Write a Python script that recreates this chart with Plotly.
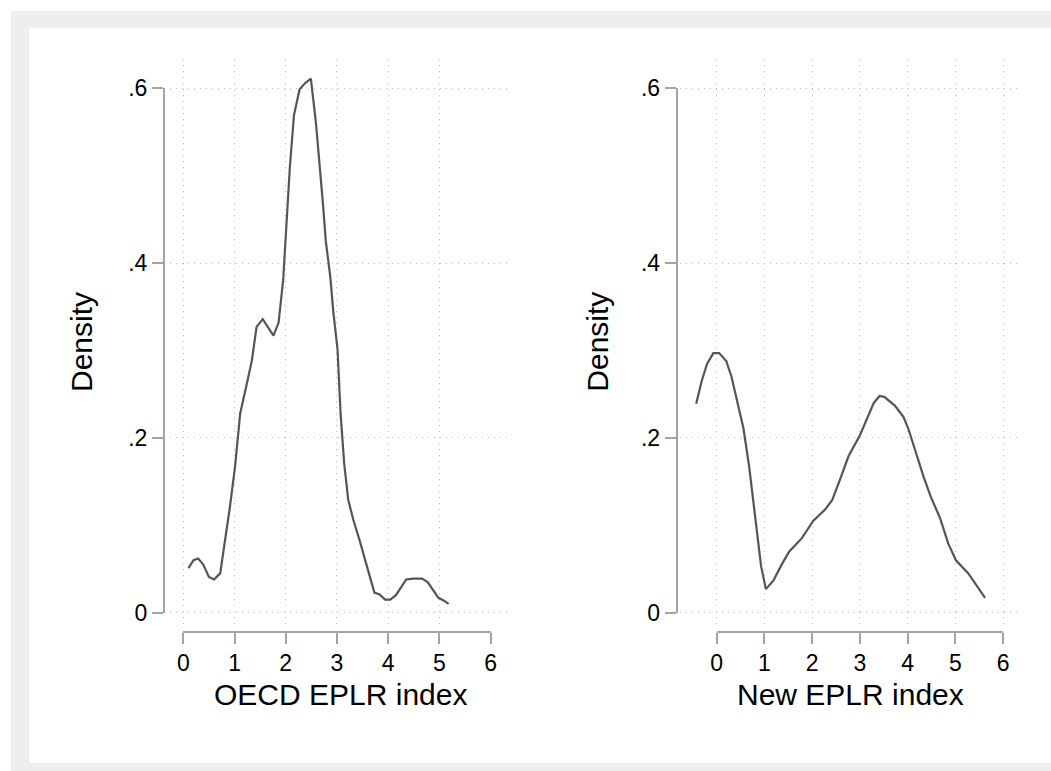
import plotly.graph_objects as go

# ---------------- data ----------------
oecd_x = [0.10, 0.20, 0.29, 0.39, 0.50, 0.60, 0.72, 0.81, 0.91, 1.01, 1.11, 1.24, 1.34, 1.43,
          1.55, 1.76, 1.86, 1.95, 2.02, 2.08, 2.16, 2.27, 2.38, 2.49, 2.59, 2.67, 2.73, 2.78,
          2.87, 2.93, 3.01, 3.07, 3.14, 3.22, 3.32, 3.44, 3.58, 3.73, 3.83, 3.94, 4.04, 4.15,
          4.25, 4.35, 4.49, 4.66, 4.77, 4.87, 4.98, 5.08, 5.18]
oecd_density = [0.051, 0.060, 0.062, 0.055, 0.041, 0.038, 0.045, 0.079, 0.121, 0.167, 0.228,
                0.262, 0.289, 0.327, 0.336, 0.317, 0.332, 0.381, 0.445, 0.510, 0.569, 0.599,
                0.606, 0.611, 0.560, 0.510, 0.465, 0.426, 0.384, 0.343, 0.302, 0.228, 0.171,
                0.129, 0.106, 0.083, 0.055, 0.023, 0.021, 0.015, 0.015, 0.020, 0.029, 0.038,
                0.039, 0.039, 0.035, 0.026, 0.017, 0.014, 0.010]

new_x = [-0.43, -0.31, -0.20, -0.07, 0.05, 0.20, 0.31, 0.43, 0.56, 0.68, 0.80, 0.93, 1.03,
         1.19, 1.36, 1.52, 1.78, 2.02, 2.27, 2.42, 2.58, 2.76, 3.00, 3.14, 3.29, 3.41, 3.51,
         3.73, 3.91, 4.01, 4.15, 4.33, 4.48, 4.68, 4.85, 5.01, 5.27, 5.45, 5.62]
new_density = [0.239, 0.266, 0.285, 0.297, 0.297, 0.288, 0.270, 0.243, 0.211, 0.167, 0.114,
               0.053, 0.027, 0.037, 0.055, 0.070, 0.085, 0.105, 0.118, 0.129, 0.152, 0.179,
               0.203, 0.221, 0.240, 0.248, 0.247, 0.237, 0.224, 0.211, 0.186, 0.156, 0.133,
               0.108, 0.079, 0.060, 0.045, 0.030, 0.017]

x_ticks = [0, 1, 2, 3, 4, 5, 6]
x_tick_labels = ["0", "1", "2", "3", "4", "5", "6"]
left_grid_x = [0, 1, 2, 3, 4, 5]
y_ticks = [0, 0.2, 0.4, 0.6]
y_tick_labels = ["0", ".2", ".4", ".6"]

left_title = "OECD EPLR index"
right_title = "New EPLR index"
y_title = "Density"

# ---------------- layout geometry (pixels) ----------------
W, H = 1051, 771
def px(x):
    return x / W
def py(y):
    return 1 - y / H

FONT = "Arial, Liberation Sans, sans-serif"
LINE_COL = "#555555"
AXIS_COL = "#a3a3a3"
GRID_COL = "#bdbdbd"
BAND_COL = "#eeeeee"
TICK_FONT = 23
TITLE_FONT = 30

# vertical mapping (shared): density 0 at 612.7 px, 874 px per unit
Y0_PX, Y_PER = 612.7, 874.0
# plot region vertical extent
REG_TOP, REG_BOT = 59, 625

panels = [
    dict(x0=183.3, xper=51.23, reg=(170, 510), yaxis_px=164, grid=left_grid_x,
         xs=oecd_x, ys=oecd_density, title=left_title, ytitle_off=83),
    dict(x0=716.7, xper=47.75, reg=(680, 1021.7), yaxis_px=676.7, grid=x_ticks,
         xs=new_x, ys=new_density, title=right_title, ytitle_off=80),
]

fig = go.Figure()
layout = dict(
    width=W, height=H,
    margin=dict(l=0, r=0, t=0, b=0),
    paper_bgcolor="white",
    plot_bgcolor="rgba(0,0,0,0)",
    showlegend=False,
    template="none",
    font=dict(family=FONT, color="black"),
)

annotations = []
for i, p in enumerate(panels):
    g = 2 * i + 1          # grid axis index
    a = 2 * i + 2          # visible axis index
    gx = "x" if g == 1 else f"x{g}"
    gy = "y" if g == 1 else f"y{g}"
    ax_ = f"x{a}"
    ay_ = f"y{a}"
    rl, rr = p["reg"]
    xr = [(rl - p["x0"]) / p["xper"], (rr - p["x0"]) / p["xper"]]
    yr = [(Y0_PX - REG_BOT) / Y_PER, (Y0_PX - REG_TOP) / Y_PER]

    # grid axes (plot region)
    layout["xaxis" if g == 1 else f"xaxis{g}"] = dict(
        domain=[px(rl), px(rr)], range=xr, anchor=gy,
        tickvals=p["grid"], showticklabels=False, ticks="",
        showgrid=True, gridcolor=GRID_COL, gridwidth=1, griddash="1px,5px",
        showline=False, zeroline=False, fixedrange=True)
    layout["yaxis" if g == 1 else f"yaxis{g}"] = dict(
        domain=[py(REG_BOT), py(REG_TOP)], range=yr, anchor=gx,
        tickvals=y_ticks, showticklabels=False, ticks="",
        showgrid=True, gridcolor=GRID_COL, gridwidth=1, griddash="1px,5px",
        showline=False, zeroline=False, fixedrange=True)

    # visible Stata-style axes
    x_end = p["x0"] + 6 * p["xper"]
    layout[f"xaxis{a}"] = dict(
        domain=[px(p["x0"]), px(x_end)], range=[0, 6], anchor="free",
        position=py(631.7), side="bottom",
        tickvals=x_ticks, ticktext=x_tick_labels,
        ticks="outside", ticklen=11, tickwidth=2, tickcolor=AXIS_COL,
        showline=True, linecolor=AXIS_COL, linewidth=2,
        showgrid=False, zeroline=False,
        tickfont=dict(size=TICK_FONT, family=FONT, color="black"), fixedrange=True)
    layout[f"yaxis{a}"] = dict(
        domain=[py(Y0_PX), py(Y0_PX - 0.6 * Y_PER)], range=[0, 0.6], anchor="free",
        position=px(p["yaxis_px"]), side="left",
        tickvals=y_ticks, ticktext=y_tick_labels,
        ticks="outside", ticklen=11, tickwidth=2, tickcolor=AXIS_COL,
        showline=True, linecolor=AXIS_COL, linewidth=2,
        showgrid=False, zeroline=False,
        tickfont=dict(size=TICK_FONT, family=FONT, color="black"), fixedrange=True)

    fig.add_trace(go.Scatter(x=[None], y=[None], xaxis=ax_, yaxis=ay_,
                             mode="lines", hoverinfo="skip"))
    fig.add_trace(go.Scatter(x=p["xs"], y=p["ys"], xaxis=gx, yaxis=gy, mode="lines",
                             line=dict(color=LINE_COL, width=2.2), hoverinfo="skip"))

    # titles centered on plot region
    annotations.append(dict(
        text=p["title"], xref="paper", yref="paper",
        x=px((rl + rr) / 2), y=py(694), xanchor="center", yanchor="middle",
        showarrow=False, font=dict(size=TITLE_FONT, family=FONT, color="black")))
    annotations.append(dict(
        text=y_title, xref="paper", yref="paper",
        x=px(p["yaxis_px"] - p["ytitle_off"]), y=py((REG_TOP + REG_BOT) / 2),
        xanchor="center", yanchor="middle", textangle=-90,
        showarrow=False, font=dict(size=TITLE_FONT, family=FONT, color="black")))

layout["annotations"] = annotations
band = dict(type="rect", xref="paper", yref="paper", fillcolor=BAND_COL,
            line=dict(width=0), layer="below")
layout["shapes"] = [
    dict(band, x0=px(11), x1=1, y0=py(28), y1=py(11)),     # top band
    dict(band, x0=px(11), x1=px(29), y0=0, y1=py(11)),     # left band
    dict(band, x0=px(11), x1=1, y0=0, y1=py(763)),         # bottom band
]
fig.update_layout(**layout)
fig.write_html("out.html",
               config={"displayModeBar": False},
               post_script=("document.documentElement.style.overflow='hidden';"
                            "document.body.style.margin='0';"
                            "document.body.style.overflow='hidden';"
                            "document.body.style.background='white';"
                            "var d=document.getElementById('{plot_id}');"
                            "d.style.position='fixed';d.style.left='0';d.style.top='0';"))
